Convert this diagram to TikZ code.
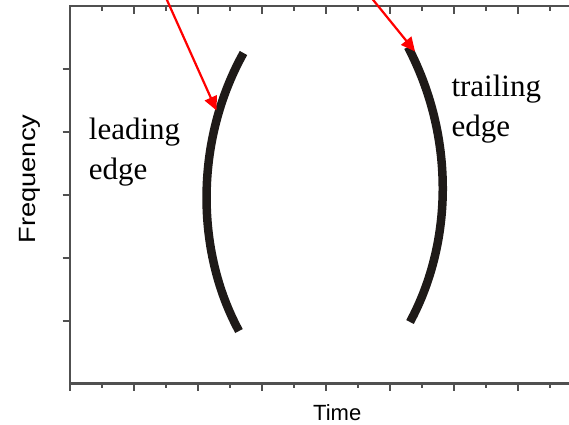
\documentclass[tikz,border=0pt]{standalone}
\usepackage{fontspec}
\setmainfont{Liberation Serif}
\setsansfont{Liberation Sans}
\usepackage{graphicx}
\usetikzlibrary{arrows.meta}

\definecolor{axisgray}{HTML}{505050}
\definecolor{curveblack}{HTML}{1E1A18}

\tikzset{
  axisline/.style={axisgray, line width=2.4pt},
  tickline/.style={axisgray, line width=2pt},
  edgecurve/.style={curveblack, line width=8.5pt},
  pointer/.style={red, line width=2.2pt, ->},
  edgelabel/.style={font=\fontsize{31}{40}\selectfont, align=left, anchor=base west, inner sep=0pt},
}

\begin{document}
\begin{tikzpicture}[x=1pt, y=-1pt, >={Triangle[length=14pt,width=13pt]}]

\useasboundingbox (0,0) rectangle (569,424);
\clip (0,0) rectangle (569,424);

% frame
\draw[axisline] (569,6) -- (70,6) -- (70,383.3) -- (569,383.3);

% ticks
\foreach \x in {134,198,...,518} {
  \draw[tickline] (\x,6) -- (\x,14);
  \draw[tickline] (\x,383.3) -- (\x,391);
}
\foreach \x in {102,166,...,550} {
  \draw[tickline] (\x,6) -- (\x,10.7);
  \draw[tickline] (\x,383.3) -- (\x,387.5);
}
\draw[tickline] (70,383.3) -- (70,391);
\foreach \y in {68.9,131.8,194.7,257.6,320.5}
  \draw[tickline] (62.5,\y) -- (70,\y);

% axis titles
\node[rotate=90, anchor=base, inner sep=0pt, font=\fontsize{23.5}{28}\sffamily]
  (freqlabel) at (35,179) {\scalebox{1.16}[1]{Frequency}};
\node[anchor=base, inner sep=0pt, font=\fontsize{22}{26}\sffamily]
  (timelabel) at (337.2,420.7) {Time};

% the two edges
\draw[edgecurve] (243.5,53) .. controls (195,140) and (195,250) .. (239,331);
\draw[edgecurve] (408,47) .. controls (454,135) and (454,240) .. (410,322);

% base anchor sits on the last line
\node[edgelabel] (leadlabel) at (88.7,179) {leading\\edge};
\node[edgelabel] (traillabel) at (451.3,136) {trailing\\edge};

% pointers
\coordinate (leadsrc) at (158,-20);
\coordinate (leadtip) at (216.5,110.5);
\coordinate (trailsrc) at (357,-20);
\coordinate (trailtip) at (415,51.5);

\draw[pointer] (leadsrc) -- (leadtip);
\draw[pointer] (trailsrc) -- (trailtip);

\end{tikzpicture}
\end{document}
